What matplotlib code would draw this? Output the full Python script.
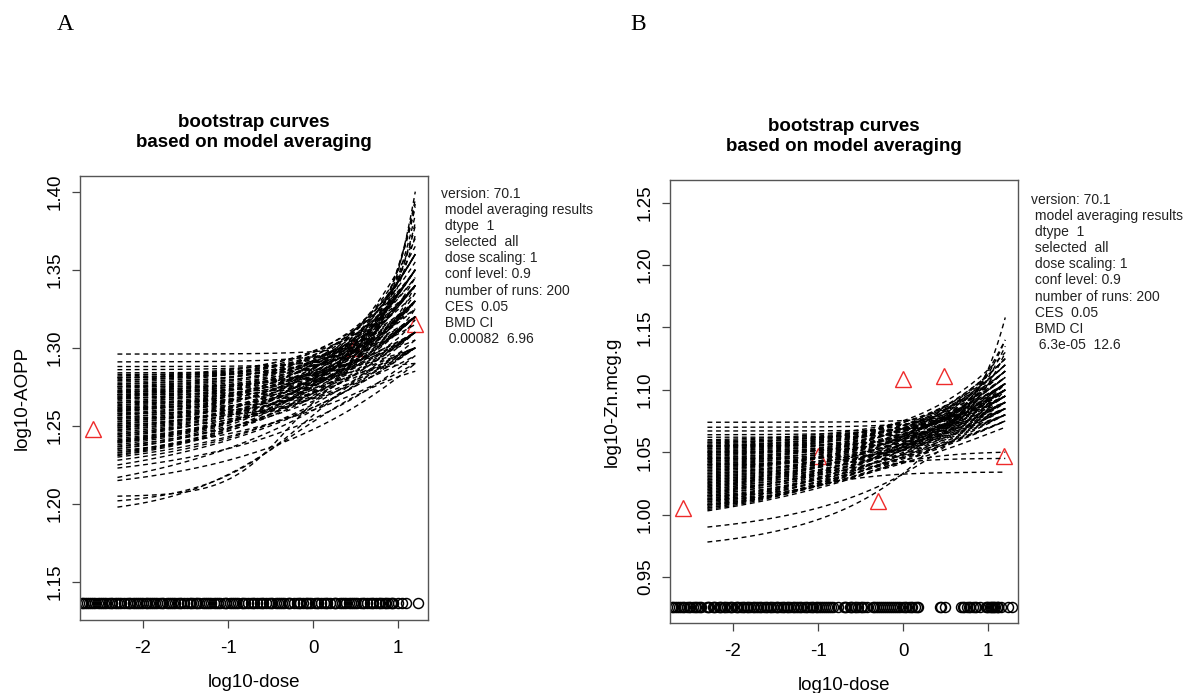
import numpy as np
import matplotlib
matplotlib.use("Agg")
import matplotlib.pyplot as plt

plt.rcParams["font.family"] = ["Liberation Sans", "DejaVu Sans"]
plt.rcParams["axes.unicode_minus"] = False

# ---- data ----
# log10-dose range that every bootstrap curve covers
curve_lo, curve_hi = -2.3, 1.2

# panel A: log10-AOPP
a_obs_dose = [-2.59, 0.48, 1.2]
a_obs_resp = [1.248, 1.300, 1.315]
a_bmd = [-2.72, -2.70, -2.68, -2.66, -2.63, -2.61, -2.59, -2.56, -2.53, -2.50,
         -2.48, -2.46, -2.43, -2.40, -2.38, -2.36, -2.33, -2.30, -2.28, -2.26,
         -2.22, -2.19, -2.17, -2.15, -2.12, -2.09, -2.07, -2.05, -2.02, -2.00,
         -1.97, -1.95, -1.93, -1.90, -1.88, -1.86, -1.83, -1.80, -1.78, -1.76,
         -1.72, -1.69, -1.67, -1.65, -1.62, -1.59, -1.57, -1.55, -1.52, -1.48,
         -1.45, -1.43, -1.41, -1.38, -1.36, -1.34, -1.30, -1.27, -1.25, -1.23,
         -1.20, -1.16, -1.14, -1.12, -1.09, -1.05, -1.03, -1.02, -0.98, -0.95,
         -0.93, -0.91, -0.88, -0.84, -0.82, -0.80, -0.77, -0.73, -0.71, -0.70,
         -0.66, -0.62, -0.60, -0.59, -0.55, -0.52, -0.50, -0.48, -0.44, -0.41,
         -0.39, -0.37, -0.34, -0.30, -0.28, -0.27, -0.23, -0.19, -0.17, -0.16,
         -0.12, -0.09, -0.07, -0.05, -0.02, 0.02, 0.04, 0.06, 0.09, 0.13,
         0.15, 0.16, 0.20, 0.24, 0.26, 0.27, 0.31, 0.34, 0.36, 0.38,
         0.42, 0.45, 0.47, 0.49, 0.52, 0.56, 0.58, 0.60, 0.63, 0.67,
         0.69, 0.70, 0.74, 0.77, 0.79, 0.81, 0.84, 0.86, 0.88, 0.91,
         0.93, 0.94, 1.00, 1.04, 1.09, 1.23]
a_bmd_level = 1.1366
a_start = [1.296, 1.291, 1.288, 1.286, 1.284, 1.283, 1.281,
           1.2300, 1.2310, 1.2315, 1.2325, 1.2330, 1.2340, 1.2350, 1.2355, 1.2365, 1.2370,
           1.2380, 1.2390, 1.2395, 1.2405, 1.2410, 1.2420, 1.2430, 1.2435, 1.2445, 1.2450,
           1.2460, 1.2470, 1.2475, 1.2485, 1.2490, 1.2500, 1.2510, 1.2515, 1.2525, 1.2530,
           1.2540, 1.2550, 1.2555, 1.2565, 1.2570, 1.2580, 1.2590, 1.2595, 1.2605, 1.2610,
           1.2620, 1.2630, 1.2635, 1.2645, 1.2650, 1.2660, 1.2670, 1.2675, 1.2685, 1.2690,
           1.2700, 1.2710, 1.2715, 1.2725, 1.2730, 1.2740, 1.2750, 1.2755, 1.2765, 1.2770,
           1.2780, 1.2790, 1.2795, 1.2805, 1.2810, 1.2820, 1.2600, 1.2500, 1.2700, 1.2400,
           1.262, 1.270, 1.255, 1.275, 1.265, 1.268, 1.258, 1.272,
           1.228, 1.225, 1.223, 1.217, 1.215,
           1.205, 1.202, 1.198]
a_end = [1.320, 1.330, 1.325, 1.335, 1.340, 1.318, 1.345,
         1.30, 1.33, 1.31, 1.35, 1.32, 1.29, 1.34, 1.31, 1.36, 1.30,
         1.33, 1.32, 1.35, 1.31, 1.34, 1.30, 1.36, 1.32, 1.33, 1.295,
         1.35, 1.31, 1.34, 1.32, 1.37, 1.30, 1.33, 1.35, 1.31, 1.32,
         1.36, 1.34, 1.30, 1.33, 1.35, 1.31, 1.32, 1.34, 1.36, 1.33,
         1.35, 1.30, 1.32, 1.34, 1.31, 1.365, 1.33, 1.31, 1.345, 1.325,
         1.35, 1.32, 1.34, 1.30, 1.36, 1.33, 1.315, 1.355, 1.335, 1.32,
         1.345, 1.33, 1.36, 1.325, 1.35, 1.34, 1.31, 1.32, 1.305, 1.33,
         1.400, 1.392, 1.385, 1.378, 1.372, 1.390, 1.380, 1.395,
         1.310, 1.300, 1.295, 1.305, 1.290,
         1.290, 1.300, 1.285]
a_slope = [1.0, 0.9, 1.0, 0.8, 0.9, 0.9, 0.7,
           0.28, 0.32, 0.27, 0.36, 0.30, 0.27, 0.34, 0.29, 0.38, 0.28,
           0.33, 0.31, 0.38, 0.30, 0.36, 0.29, 0.40, 0.32, 0.34, 0.29,
           0.40, 0.32, 0.38, 0.34, 0.44, 0.31, 0.37, 0.41, 0.33, 0.35,
           0.44, 0.39, 0.32, 0.38, 0.42, 0.34, 0.36, 0.40, 0.45, 0.39,
           0.44, 0.33, 0.38, 0.42, 0.36, 0.50, 0.41, 0.37, 0.46, 0.42,
           0.48, 0.40, 0.45, 0.36, 0.52, 0.44, 0.40, 0.52, 0.47, 0.43,
           0.50, 0.46, 0.56, 0.45, 0.52, 0.50, 0.38, 0.36, 0.34, 0.35,
           1.0, 0.9, 0.8, 0.9, 0.8, 0.85, 0.8, 0.95,
           0.30, 0.25, 0.30, 0.25, 0.30,
           1.2, 0.7, 0.6]
a_mid = [3.0] * 90 + [-0.3, 0.0, -0.2]

# panel B: log10-Zn.mcg.g
b_obs_dose = [-2.59, -1.0, -0.3, 0.0, 0.48, 1.18]
b_obs_resp = [1.005, 1.047, 1.011, 1.109, 1.111, 1.047]
b_bmd = [-2.72, -2.70, -2.68, -2.66, -2.63, -2.61, -2.59, -2.57, -2.54, -2.52,
         -2.50, -2.47, -2.45, -2.44, -2.41, -2.39, -2.37, -2.31, -2.29, -2.28,
         -2.24, -2.22, -2.21, -2.17, -2.15, -2.14, -2.11, -2.09, -2.07, -2.04,
         -2.02, -2.01, -1.97, -1.95, -1.94, -1.90, -1.88, -1.87, -1.84, -1.82,
         -1.80, -1.77, -1.75, -1.73, -1.70, -1.68, -1.67, -1.63, -1.61, -1.60,
         -1.57, -1.55, -1.53, -1.50, -1.48, -1.47, -1.43, -1.41, -1.40, -1.37,
         -1.35, -1.33, -1.30, -1.28, -1.26, -1.23, -1.21, -1.20, -1.16, -1.14,
         -1.13, -1.09, -1.07, -1.06, -1.03, -1.01, -0.99, -0.96, -0.94, -0.92,
         -0.89, -0.87, -0.85, -0.82, -0.76, -0.70, -0.68, -0.67, -0.63, -0.61,
         -0.60, -0.57, -0.55, -0.53, -0.50, -0.48, -0.46, -0.43, -0.36, -0.34,
         -0.32, -0.29, -0.27, -0.25, -0.22, -0.20, -0.18, -0.15, -0.13, -0.11,
         -0.08, -0.06, -0.04, 0.00, 0.02, 0.03, 0.07, 0.09, 0.10, 0.14,
         0.16, 0.18, 0.43, 0.45, 0.49, 0.68, 0.70, 0.72, 0.75, 0.77,
         0.79, 0.82, 0.84, 0.86, 0.90, 0.97, 0.99, 1.00, 1.02, 1.03,
         1.05, 1.06, 1.07, 1.08, 1.10, 1.11, 1.12, 1.15, 1.23, 1.28]
b_bmd_level = 0.926
b_start = [1.074, 1.070, 1.067, 1.064, 1.062,
           1.0030, 1.0040, 1.0050, 1.0055, 1.0065, 1.0075, 1.0080, 1.0090, 1.0100, 1.0105,
           1.0115, 1.0125, 1.0130, 1.0140, 1.0150, 1.0155, 1.0165, 1.0175, 1.0180, 1.0190,
           1.0200, 1.0205, 1.0215, 1.0225, 1.0230, 1.0240, 1.0250, 1.0255, 1.0265, 1.0275,
           1.0280, 1.0290, 1.0300, 1.0305, 1.0315, 1.0325, 1.0330, 1.0340, 1.0350, 1.0355,
           1.0365, 1.0375, 1.0380, 1.0390, 1.0400, 1.0405, 1.0415, 1.0425, 1.0430, 1.0440,
           1.0450, 1.0455, 1.0465, 1.0475, 1.0480, 1.0490, 1.0500, 1.0505, 1.0515, 1.0525,
           1.0530, 1.0540, 1.0550, 1.0555, 1.0565, 1.0575, 1.0580, 1.0590, 1.0600, 1.0545,
           1.045, 1.050, 1.040, 1.055,
           0.990, 0.978,
           1.008, 1.012, 1.015]
b_end = [1.095, 1.100, 1.090, 1.105, 1.085,
         1.080, 1.095, 1.075, 1.105, 1.085, 1.070, 1.100, 1.080, 1.115, 1.075,
         1.090, 1.085, 1.105, 1.075, 1.100, 1.080, 1.120, 1.090, 1.095, 1.075,
         1.105, 1.085, 1.100, 1.090, 1.125, 1.080, 1.095, 1.110, 1.085, 1.090,
         1.115, 1.100, 1.080, 1.095, 1.110, 1.085, 1.090, 1.105, 1.120, 1.095,
         1.110, 1.080, 1.095, 1.105, 1.090, 1.125, 1.100, 1.085, 1.115, 1.100,
         1.120, 1.090, 1.105, 1.085, 1.125, 1.100, 1.095, 1.115, 1.105, 1.095,
         1.110, 1.100, 1.120, 1.095, 1.115, 1.105, 1.090, 1.100, 1.110, 1.130,
         1.158, 1.140, 1.135, 1.130,
         1.100, 1.140,
         1.034, 1.045, 1.050]
b_slope = [1.0, 0.9, 1.0, 0.8, 0.9,
           0.22, 0.25, 0.20, 0.27, 0.23, 0.20, 0.26, 0.22, 0.29, 0.21,
           0.25, 0.24, 0.29, 0.22, 0.27, 0.23, 0.31, 0.26, 0.27, 0.23,
           0.30, 0.26, 0.29, 0.27, 0.34, 0.25, 0.29, 0.32, 0.27, 0.29,
           0.34, 0.31, 0.27, 0.30, 0.34, 0.29, 0.30, 0.33, 0.37, 0.31,
           0.36, 0.29, 0.33, 0.35, 0.32, 0.40, 0.35, 0.32, 0.39, 0.36,
           0.42, 0.35, 0.38, 0.33, 0.44, 0.39, 0.37, 0.42, 0.40, 0.38,
           0.43, 0.41, 0.46, 0.40, 0.45, 0.44, 0.40, 0.43, 0.46, 0.48,
           1.0, 0.8, 0.7, 0.9,
           0.35, 0.40,
           1.0, 1.2, 1.0]
b_mid = [3.0] * 81 + [-1.2, -0.8, -0.5]

info_lines = ["version: 70.1", " model averaging results", " dtype  1",
              " selected  all", " dose scaling: 1", " conf level: 0.9",
              " number of runs: 200", " CES  0.05", " BMD CI"]
a_ci = "  0.00082  6.96"
b_ci = "  6.3e-05  12.6"


def boot_curve(t, y0, y1, slope, mid):
    # dose-response shape in log10-dose, scaled to go from y0 to y1
    h = 1.0 / (1.0 + 10.0 ** (-slope * (t - mid)))
    h0 = 1.0 / (1.0 + 10.0 ** (-slope * (curve_lo - mid)))
    h1 = 1.0 / (1.0 + 10.0 ** (-slope * (curve_hi - mid)))
    return y0 + (y1 - y0) * (h - h0) / (h1 - h0)


def draw_panel(ax, obs_x, obs_y, bmd, bmd_y, starts, ends, slopes, mids,
               ylabel, ylim, yticks):
    ax.plot(obs_x, obs_y, "^", ms=11, mfc="none", mec="#ee2a2a", mew=1.0, zorder=2)
    ax.plot(bmd, [bmd_y] * len(bmd), "o", ms=7.2, mfc="none", mec="black",
            mew=1.05, zorder=2)
    t = np.linspace(curve_lo, curve_hi, 200)
    for y0, y1, s, m in zip(starts, ends, slopes, mids):
        ax.plot(t, boot_curve(t, y0, y1, s, m), color="black", lw=1.0,
                dashes=(3.5, 2.7), zorder=3)
    ax.set_xlim(-2.74, 1.35)
    ax.set_ylim(*ylim)
    ax.set_xticks([-2, -1, 0, 1])
    ax.set_yticks(yticks)
    ax.set_yticklabels(["%.2f" % v for v in yticks], rotation=90, va="center")
    ax.tick_params(direction="out", length=5.5, width=0.9, labelsize=13.5,
                   color="#444444", pad=6)
    ax.tick_params(axis="x", pad=9)
    for sp in ax.spines.values():
        sp.set_color("#555555")
        sp.set_linewidth(1.0)
    ax.set_xlabel("log10-dose", fontsize=13.5, labelpad=12)
    ax.set_ylabel(ylabel, fontsize=13.5, labelpad=12)
    ax.set_title("bootstrap curves\nbased on model averaging", fontsize=13.5,
                 fontweight="bold", pad=21, linespacing=1.25)


def draw_info(fig, rect, ci):
    iax = fig.add_axes(rect)
    iax.axis("off")
    lines = info_lines + [ci]
    for i, s in enumerate(lines):
        iax.text(0.0, 1.0 - i / len(lines), s, transform=iax.transAxes,
                 fontsize=10, va="top", ha="left", color="#222222", clip_on=True)


fig = plt.figure(figsize=(11.89, 6.93), dpi=100)

ax_a = fig.add_axes([0.0673, 0.1053, 0.2927, 0.6407])
draw_panel(ax_a, a_obs_dose, a_obs_resp, a_bmd, a_bmd_level, a_start, a_end,
           a_slope, a_mid, "log10-AOPP", (1.1257, 1.410),
           [1.15, 1.20, 1.25, 1.30, 1.35, 1.40])

ax_b = fig.add_axes([0.5635, 0.1010, 0.2927, 0.6393])
draw_panel(ax_b, b_obs_dose, b_obs_resp, b_bmd, b_bmd_level, b_start, b_end,
           b_slope, b_mid, "log10-Zn.mcg.g", (0.9131, 1.2682),
           [0.95, 1.00, 1.05, 1.10, 1.15, 1.20, 1.25])

# info blocks to the right of each plot (panel A one is cut at its image edge)
draw_info(fig, [441 / 1189, 1 - 348 / 693, (593 - 441) / 1189, 161 / 693], a_ci)
draw_info(fig, [1031 / 1189, 1 - 354 / 693, (1189 - 1031) / 1189, 161 / 693], b_ci)

fig.text(65 / 1189, 1 - 25 / 693, "A", fontsize=17, family="Liberation Serif",
         ha="center", va="center")
fig.text(638 / 1189, 1 - 25 / 693, "B", fontsize=17, family="Liberation Serif",
         ha="center", va="center")

fig.savefig("out.png", dpi=100)
